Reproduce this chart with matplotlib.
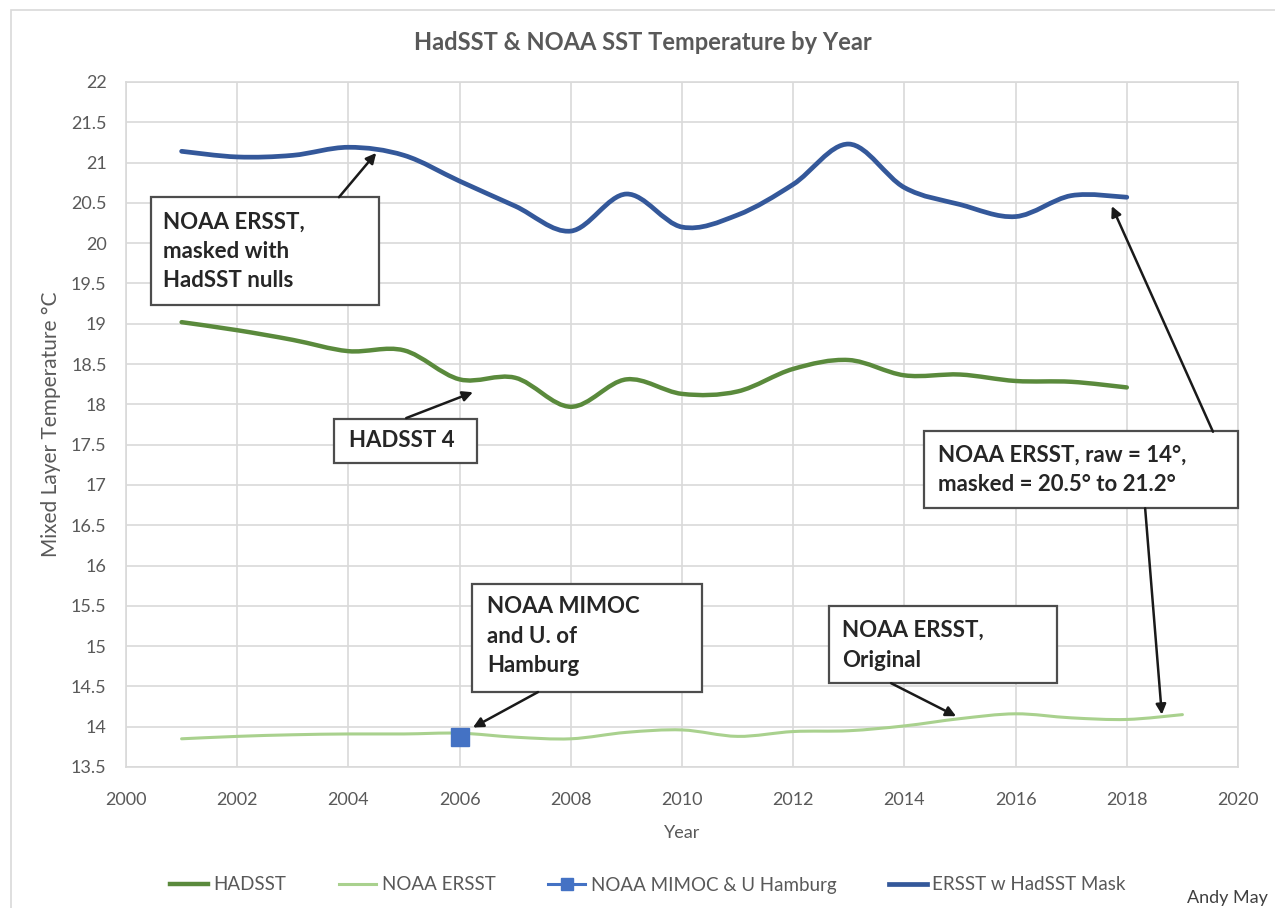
#!/usr/bin/env python3
"""
HadSST & NOAA SST temperature by year, Excel-style smoothed lines
with boxed call-outs. Saves out.png (1275x908).
"""
import numpy as np
import matplotlib
matplotlib.use("Agg")
import matplotlib.pyplot as plt
from matplotlib.path import Path
from matplotlib.patches import PathPatch, Rectangle
from matplotlib.lines import Line2D

plt.rcParams["font.family"] = ["Lato", "DejaVu Sans"]

# ---- data ----
years_had = list(range(2001, 2019))
hadsst = [19.02, 18.92, 18.80, 18.66, 18.67, 18.31, 18.33, 17.97, 18.31,
          18.13, 18.16, 18.44, 18.55, 18.36, 18.37, 18.29, 18.28, 18.21]

years_ersst = list(range(2001, 2020))
ersst = [13.85, 13.88, 13.90, 13.91, 13.91, 13.92, 13.87, 13.85, 13.93,
         13.96, 13.88, 13.94, 13.95, 14.01, 14.10, 14.16, 14.11, 14.09, 14.15]

years_mimoc = [2006]
mimoc = [13.87]

years_mask = list(range(2001, 2019))
ersst_mask = [21.14, 21.07, 21.09, 21.19, 21.09, 20.77, 20.46, 20.15, 20.61,
              20.20, 20.35, 20.73, 21.23, 20.69, 20.48, 20.33, 20.59, 20.57]

x_ticks = list(range(2000, 2021, 2))
y_ticks = list(np.arange(13.5, 22.01, 0.5))

GREY = "#595959"
GRID = "#d9d9d9"
C_HAD = "#5a8a3c"
C_ERSST = "#a9d18e"
C_MIMOC = "#4472c4"
C_MASK = "#34589a"


def smooth_path(x, y):
    """Catmull-Rom style Bezier path through the points (like Excel 'smoothed line')."""
    p = np.column_stack([x, y]).astype(float)
    n = len(p)
    verts = [p[0]]
    codes = [Path.MOVETO]
    for i in range(n - 1):
        p0 = p[i - 1] if i > 0 else p[i]
        p1, p2 = p[i], p[i + 1]
        p3 = p[i + 2] if i + 2 < n else p[i + 1]
        c1 = p1 + (p2 - p0) / 6.0
        c2 = p2 - (p3 - p1) / 6.0
        verts += [c1, c2, p2]
        codes += [Path.CURVE4] * 3
    return Path(verts, codes)


fig = plt.figure(figsize=(12.75, 9.08), dpi=100)
W, H = 1275, 908
ax = fig.add_axes([126 / W, 1 - 767 / H, (1238 - 126) / W, (767 - 82) / H])

# outer chart border
fig.patches.append(Rectangle((11 / W, -0.02), 1.1, 1 - 10 / H + 0.02,
                             transform=fig.transFigure, fill=False,
                             edgecolor="#d9d9d9", lw=1.2))

for xs, ys, col, lw in [(years_ersst, ersst, C_ERSST, 2.2),
                        (years_had, hadsst, C_HAD, 3.2),
                        (years_mask, ersst_mask, C_MASK, 3.4)]:
    ax.add_patch(PathPatch(smooth_path(xs, ys), facecolor="none",
                           edgecolor=col, lw=lw, capstyle="round", zorder=3))

ax.plot(years_mimoc, mimoc, marker="s", ms=13, color=C_MIMOC, ls="-",
        lw=2.2, zorder=4)

ax.set_xlim(2000, 2020)
ax.set_ylim(13.5, 22)
ax.set_xticks(x_ticks)
ax.set_yticks(y_ticks)
ax.set_yticklabels([f"{v:g}" for v in y_ticks])
ax.grid(True, color=GRID, lw=1.2)
ax.set_axisbelow(True)
for s in ax.spines.values():
    s.set_color(GRID)
    s.set_linewidth(1.2)
ax.tick_params(length=0, labelsize=13, colors=GREY)
ax.tick_params(axis="x", pad=18)
ax.tick_params(axis="y", pad=14)
ax.set_xlabel("Year", fontsize=13, color=GREY, labelpad=12)
ax.set_ylabel("Mixed Layer Temperature °C", fontsize=15, color=GREY, labelpad=7)

fig.text(643 / W, 1 - 43 / H, "HadSST & NOAA SST Temperature by Year",
         ha="center", va="center", fontsize=17, fontweight="bold", color=GREY)

# ---- call-out boxes: (x0, x1, y0, y1), text anchor, text ----
boxes = [
    ((2000.45, 2004.55, 19.23, 20.57), (2000.67, 19.90), "NOAA ERSST,\nmasked with\nHadSST nulls"),
    ((2003.74, 2006.31, 17.27, 17.82), (2004.01, 17.55), "HADSST 4"),
    ((2006.22, 2010.36, 14.43, 15.77), (2006.49, 15.12), "NOAA MIMOC\nand U. of\nHamburg"),
    ((2012.64, 2016.74, 14.54, 15.50), (2012.88, 15.01), "NOAA ERSST,\nOriginal"),
    ((2014.35, 2020.00, 16.71, 17.67), (2014.60, 17.19), "NOAA ERSST, raw = 14°,\nmasked = 20.5° to 21.2°"),
]
for (x0, x1, y0, y1), (tx, ty), txt in boxes:
    ax.add_patch(Rectangle((x0, y0), x1 - x0, y1 - y0, facecolor="white",
                           edgecolor="#4d4d4d", lw=1.6, zorder=5, clip_on=False))
    ax.text(tx, ty, txt, ha="left", va="center", fontsize=16,
            fontweight="bold", color="#262626", linespacing=1.5, zorder=6)

arrows = [
    ((2003.83, 20.57), (2004.50, 21.12)),
    ((2005.04, 17.83), (2006.24, 18.15)),
    ((2007.41, 14.43), (2006.24, 13.99)),
    ((2013.76, 14.54), (2014.93, 14.13)),
    ((2019.55, 17.66), (2017.73, 20.46)),
    ((2018.33, 16.71), (2018.63, 14.15)),
]
for tail, tip in arrows:
    ax.annotate("", xy=tip, xytext=tail, zorder=7,
                arrowprops=dict(arrowstyle="-|>", color="#1a1a1a", lw=1.8,
                                mutation_scale=15, shrinkA=0, shrinkB=0))

handles = [
    Line2D([], [], color=C_HAD, lw=3.2),
    Line2D([], [], color=C_ERSST, lw=2.2),
    Line2D([], [], color=C_MIMOC, lw=2.2, marker="s", ms=9),
    Line2D([], [], color=C_MASK, lw=3.4),
]
labels = ["HADSST", "NOAA ERSST", "NOAA MIMOC & U Hamburg", "ERSST w HadSST Mask"]
fig.legend(handles, labels, loc="center", bbox_to_anchor=(648 / W, 1 - 885 / H),
           ncol=4, frameon=False, fontsize=13.5, labelcolor=GREY,
           handlelength=2.0, handletextpad=0.3, columnspacing=2.8)

fig.text(1268 / W, 1 - 898 / H, "Andy May", ha="right", va="center",
         fontsize=13, color="#404040")

fig.savefig("out.png", dpi=100)
